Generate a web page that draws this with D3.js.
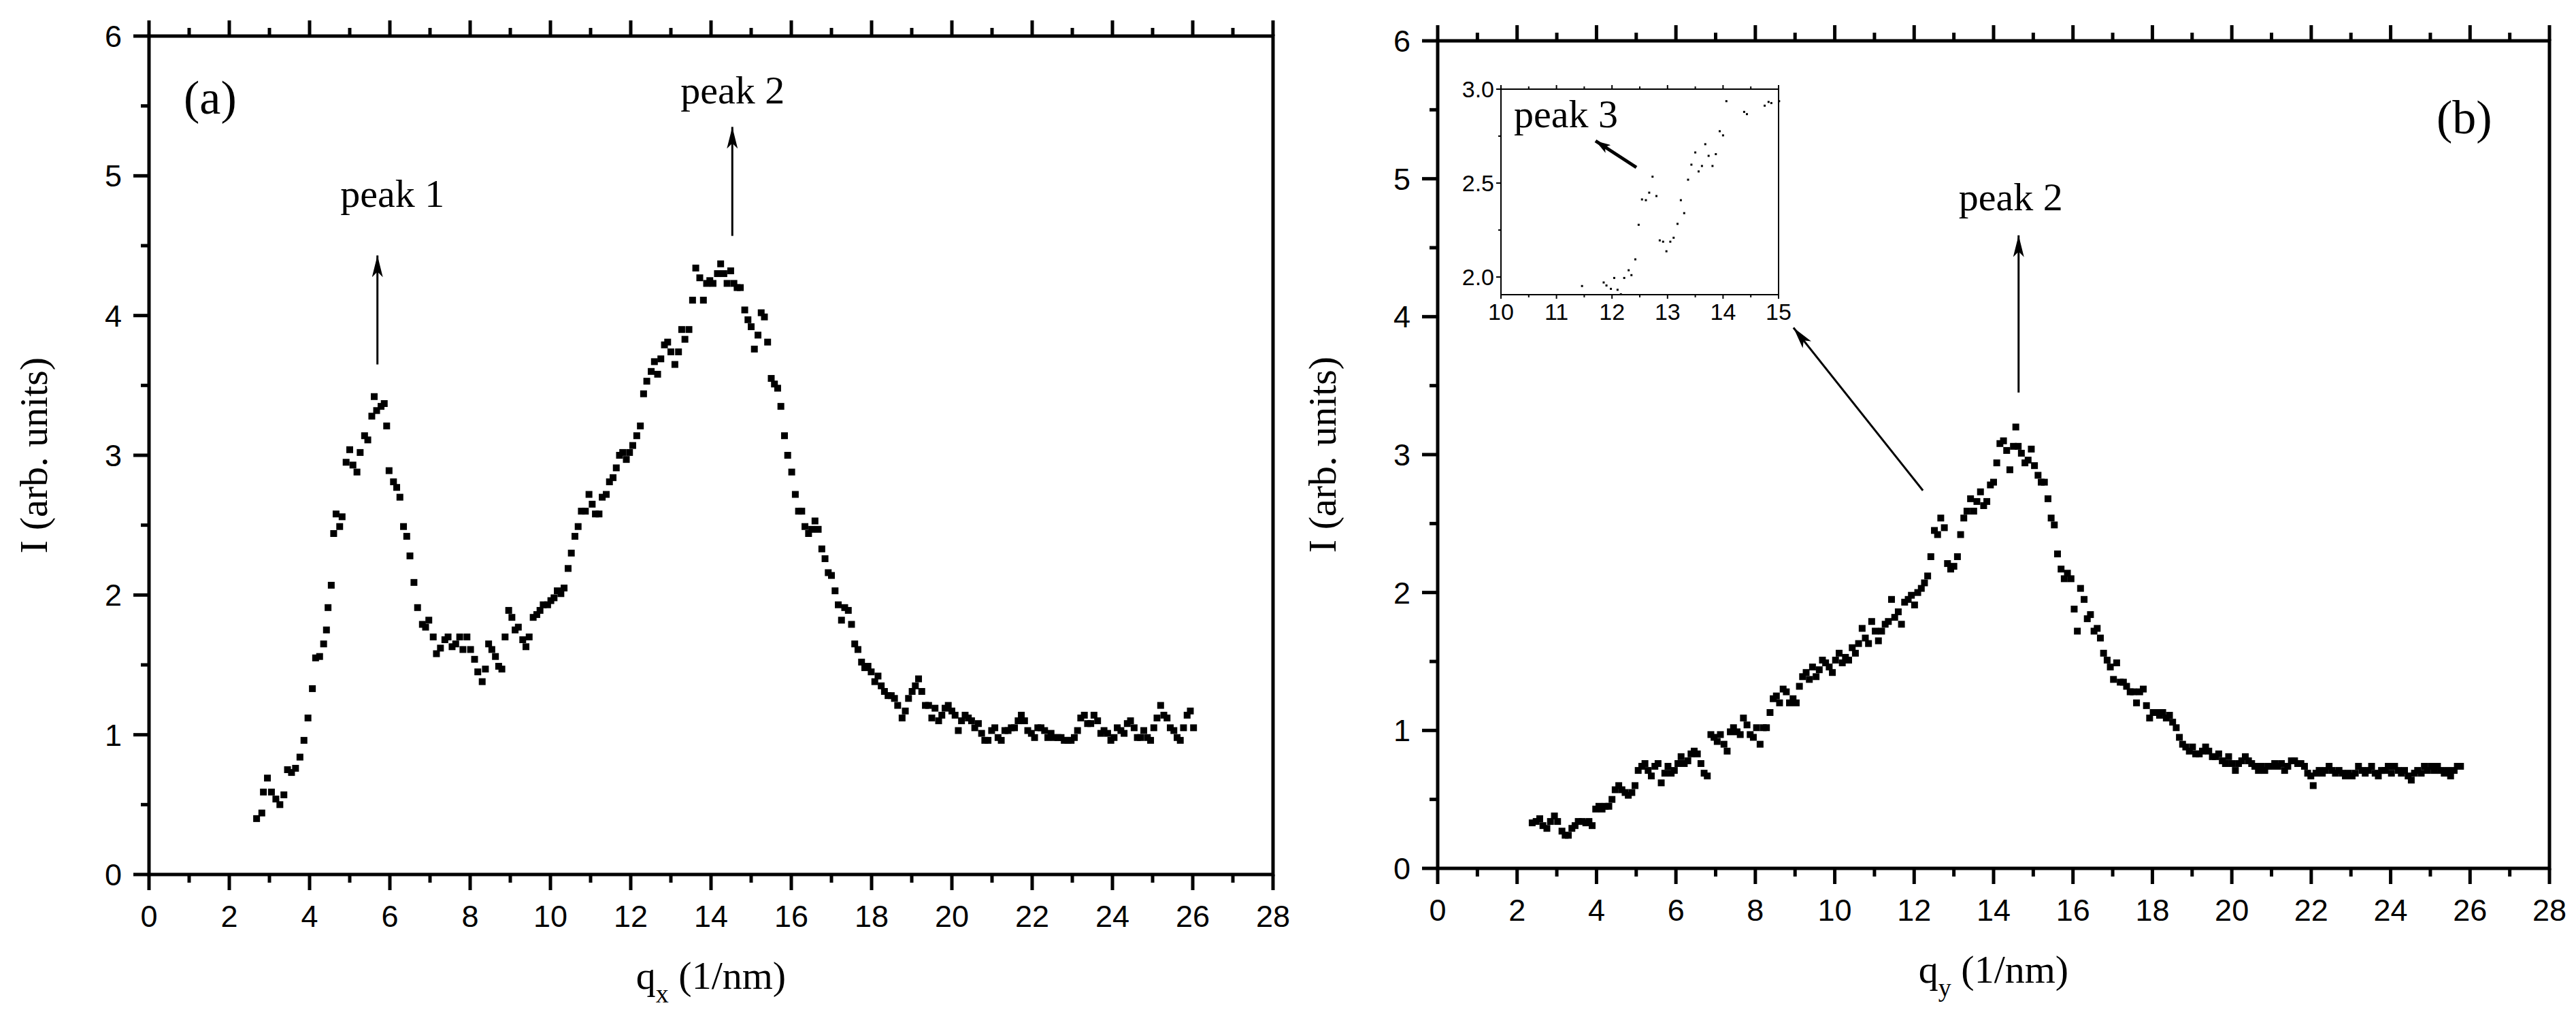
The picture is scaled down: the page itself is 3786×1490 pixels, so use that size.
<!doctype html>
<html>
  <head>
    <meta charset="utf-8" />
    <title>Scattering profiles</title>
    <style>
      body { margin: 0; background: #fff; }
      svg { display: block; }
      .tick-label { font-family: "Liberation Sans", Arial, sans-serif; font-size: 45px; fill: #000; }
      .inset-label { font-family: "Liberation Sans", Arial, sans-serif; font-size: 34px; fill: #000; }
      .serif { font-family: "Liberation Serif", "Times New Roman", serif; fill: #000; }
    </style>
  </head>
  <body>
    <svg id="chart"></svg>
    <script src="https://d3js.org/d3.v7.min.js"></script>
    <script>
      // panel (a): q_x vs intensity
      const seriesA = [
        [2.68,0.40],[2.81,0.44],[2.85,0.59],[2.95,0.69],[3.05,0.59],[3.16,0.54],[3.26,0.50],[3.36,0.57],[3.45,0.75],[3.55,0.73],
        [3.65,0.76],[3.76,0.84],[3.86,0.96],[3.96,1.12],[4.07,1.33],[4.15,1.55],[4.25,1.56],[4.35,1.65],[4.42,1.75],[4.46,1.91],
        [4.54,2.07],[4.60,2.44],[4.66,2.58],[4.75,2.49],[4.81,2.56],[4.91,2.95],[5.00,3.04],[5.08,2.93],[5.18,2.88],[5.26,3.02],
        [5.37,3.14],[5.45,3.11],[5.55,3.28],[5.61,3.42],[5.67,3.32],[5.78,3.35],[5.86,3.37],[5.92,3.21],[5.98,2.89],[6.09,2.81],
        [6.17,2.77],[6.25,2.70],[6.34,2.49],[6.42,2.42],[6.50,2.28],[6.60,2.09],[6.69,1.91],[6.81,1.79],[6.89,1.77],[6.97,1.82],
        [7.08,1.70],[7.16,1.58],[7.26,1.62],[7.37,1.68],[7.45,1.70],[7.55,1.63],[7.64,1.65],[7.74,1.70],[7.82,1.61],[7.92,1.70],
        [8.01,1.61],[8.11,1.54],[8.19,1.45],[8.30,1.38],[8.38,1.47],[8.46,1.65],[8.54,1.61],[8.63,1.56],[8.71,1.49],[8.79,1.47],
        [8.87,1.70],[8.96,1.89],[9.04,1.84],[9.12,1.75],[9.20,1.77],[9.31,1.68],[9.39,1.63],[9.47,1.70],[9.57,1.84],[9.66,1.86],
        [9.74,1.89],[9.82,1.93],[9.93,1.93],[10.01,1.96],[10.09,1.98],[10.17,2.03],[10.26,2.01],[10.34,2.05],[10.44,2.19],[10.52,2.30],
        [10.61,2.42],[10.69,2.49],[10.77,2.60],[10.87,2.60],[10.96,2.72],[11.04,2.65],[11.12,2.58],[11.21,2.58],[11.29,2.70],[11.39,2.72],
        [11.47,2.81],[11.56,2.84],[11.64,2.91],[11.72,3.00],[11.80,3.02],[11.89,2.97],[11.97,3.02],[12.05,3.07],[12.15,3.14],[12.24,3.21],
        [12.32,3.44],[12.40,3.53],[12.51,3.60],[12.59,3.67],[12.67,3.58],[12.75,3.69],[12.84,3.79],[12.92,3.81],[13.00,3.74],[13.10,3.65],
        [13.19,3.74],[13.27,3.90],[13.35,3.83],[13.45,3.90],[13.54,4.11],[13.62,4.34],[13.72,4.27],[13.81,4.11],[13.89,4.23],[13.97,4.25],
        [14.05,4.23],[14.16,4.30],[14.24,4.37],[14.32,4.30],[14.40,4.23],[14.49,4.32],[14.57,4.23],[14.65,4.20],[14.73,4.20],[14.84,4.04],
        [14.92,3.97],[15.00,3.92],[15.08,3.76],[15.17,3.86],[15.25,4.02],[15.33,3.99],[15.41,3.81],[15.50,3.55],[15.58,3.51],[15.66,3.48],
        [15.74,3.35],[15.83,3.14],[15.91,3.00],[16.01,2.88],[16.10,2.72],[16.18,2.60],[16.26,2.60],[16.34,2.49],[16.43,2.44],[16.51,2.47],
        [16.59,2.53],[16.67,2.47],[16.76,2.33],[16.84,2.26],[16.92,2.16],[17.00,2.14],[17.09,2.03],[17.17,1.93],[17.25,1.82],[17.33,1.91],
        [17.42,1.89],[17.50,1.79],[17.58,1.65],[17.66,1.61],[17.75,1.52],[17.83,1.48],[17.91,1.49],[17.99,1.45],[18.08,1.38],[18.16,1.42],
        [18.24,1.35],[18.32,1.31],[18.41,1.28],[18.49,1.28],[18.57,1.26],[18.65,1.21],[18.76,1.12],[18.84,1.17],[18.92,1.26],[19.01,1.31],
        [19.09,1.35],[19.17,1.40],[19.25,1.31],[19.34,1.21],[19.42,1.21],[19.50,1.12],[19.58,1.19],[19.67,1.10],[19.75,1.14],[19.83,1.19],
        [19.91,1.21],[20.00,1.17],[20.08,1.14],[20.16,1.03],[20.24,1.10],[20.33,1.14],[20.41,1.12],[20.49,1.10],[20.57,1.05],[20.66,1.08],
        [20.74,1.01],[20.82,0.96],[20.90,0.96],[20.99,1.03],[21.07,1.05],[21.15,0.98],[21.23,0.96],[21.32,1.03],[21.40,1.03],[21.48,1.05],
        [21.56,1.05],[21.65,1.10],[21.73,1.14],[21.81,1.10],[21.89,1.03],[21.98,1.01],[22.06,0.98],[22.14,1.05],[22.22,1.05],[22.31,1.03],
        [22.39,0.98],[22.47,1.01],[22.55,0.98],[22.64,0.98],[22.72,0.98],[22.80,0.96],[22.89,0.96],[22.97,0.96],[23.05,0.98],[23.13,1.03],
        [23.21,1.12],[23.30,1.14],[23.38,1.08],[23.46,1.08],[23.54,1.14],[23.63,1.10],[23.71,1.01],[23.79,1.03],[23.88,1.01],[23.96,0.96],
        [24.04,0.98],[24.12,1.05],[24.21,1.03],[24.29,1.01],[24.37,1.08],[24.45,1.10],[24.54,1.05],[24.62,0.98],[24.70,0.98],[24.78,1.03],
        [24.87,0.98],[24.95,0.96],[25.03,1.05],[25.11,1.12],[25.20,1.21],[25.28,1.14],[25.36,1.12],[25.44,1.05],[25.53,1.03],[25.61,0.98],
        [25.69,0.96],[25.77,1.05],[25.86,1.14],[25.94,1.17],[26.02,1.05]
      ];

      // panel (b): q_y vs intensity
      const seriesB = [
        [2.38,0.33],[2.48,0.34],[2.57,0.36],[2.65,0.31],[2.75,0.29],[2.84,0.34],[2.94,0.38],[3.02,0.34],[3.13,0.27],[3.21,0.24],
        [3.29,0.24],[3.38,0.29],[3.46,0.31],[3.54,0.34],[3.64,0.34],[3.73,0.33],[3.81,0.34],[3.89,0.31],[3.98,0.43],[4.06,0.45],
        [4.14,0.43],[4.22,0.45],[4.31,0.45],[4.39,0.50],[4.47,0.57],[4.56,0.60],[4.64,0.57],[4.72,0.55],[4.80,0.53],[4.89,0.55],
        [4.97,0.60],[5.05,0.71],[5.14,0.74],[5.22,0.76],[5.30,0.71],[5.38,0.67],[5.47,0.74],[5.55,0.76],[5.63,0.62],[5.72,0.69],
        [5.80,0.74],[5.88,0.69],[5.96,0.71],[6.05,0.76],[6.13,0.81],[6.21,0.76],[6.30,0.78],[6.38,0.83],[6.46,0.85],[6.54,0.83],
        [6.63,0.76],[6.71,0.69],[6.79,0.67],[6.88,0.97],[6.96,0.95],[7.04,0.92],[7.12,0.97],[7.21,0.90],[7.29,0.85],[7.37,0.99],
        [7.45,1.02],[7.54,0.99],[7.62,0.97],[7.70,1.09],[7.79,1.04],[7.87,0.97],[7.95,0.95],[8.03,1.02],[8.12,0.90],[8.20,1.02],
        [8.28,1.02],[8.37,1.13],[8.45,1.23],[8.53,1.25],[8.61,1.20],[8.70,1.30],[8.78,1.28],[8.86,1.20],[8.95,1.23],[9.03,1.20],
        [9.11,1.32],[9.19,1.39],[9.28,1.42],[9.36,1.37],[9.44,1.46],[9.53,1.39],[9.61,1.44],[9.69,1.51],[9.77,1.49],[9.86,1.46],
        [9.94,1.42],[10.02,1.51],[10.11,1.56],[10.19,1.49],[10.27,1.53],[10.35,1.51],[10.44,1.60],[10.52,1.56],[10.60,1.63],[10.69,1.74],
        [10.77,1.67],[10.85,1.63],[10.93,1.79],[11.02,1.72],[11.10,1.65],[11.18,1.72],[11.27,1.77],[11.35,1.79],[11.43,1.95],[11.51,1.82],
        [11.60,1.86],[11.68,1.77],[11.76,1.93],[11.85,1.95],[11.93,1.98],[12.01,1.91],[12.09,2.00],[12.18,2.03],[12.26,2.07],[12.34,2.12],
        [12.42,2.26],[12.51,2.45],[12.59,2.42],[12.67,2.54],[12.76,2.47],[12.84,2.21],[12.92,2.17],[13.00,2.19],[13.09,2.26],[13.17,2.42],
        [13.25,2.54],[13.33,2.59],[13.42,2.68],[13.50,2.59],[13.58,2.66],[13.67,2.73],[13.75,2.63],[13.83,2.66],[13.92,2.78],[14.00,2.80],
        [14.08,2.94],[14.16,3.08],[14.25,3.10],[14.33,3.03],[14.41,2.89],[14.50,3.06],[14.56,3.20],[14.62,3.06],[14.70,3.01],[14.79,2.94],
        [14.87,2.96],[14.95,3.04],[15.03,2.92],[15.12,2.85],[15.20,2.80],[15.28,2.80],[15.37,2.68],[15.45,2.54],[15.53,2.49],[15.61,2.28],
        [15.70,2.17],[15.78,2.10],[15.86,2.14],[15.95,2.10],[16.03,1.88],[16.11,1.72],[16.19,2.03],[16.28,1.95],[16.36,1.81],[16.44,1.84],
        [16.53,1.72],[16.61,1.74],[16.69,1.67],[16.77,1.56],[16.86,1.51],[16.94,1.46],[17.02,1.37],[17.10,1.49],[17.19,1.35],[17.27,1.35],
        [17.35,1.32],[17.44,1.28],[17.52,1.28],[17.60,1.20],[17.68,1.28],[17.77,1.30],[17.85,1.18],[17.93,1.09],[18.02,1.13],[18.10,1.13],
        [18.18,1.11],[18.26,1.13],[18.35,1.09],[18.43,1.11],[18.51,1.06],[18.60,1.02],[18.68,0.95],[18.76,0.90],[18.84,0.88],[18.93,0.85],
        [19.01,0.88],[19.09,0.83],[19.18,0.83],[19.26,0.85],[19.34,0.88],[19.42,0.85],[19.51,0.81],[19.59,0.81],[19.67,0.83],[19.76,0.78],
        [19.84,0.76],[19.92,0.81],[20.00,0.76],[20.09,0.71],[20.17,0.76],[20.25,0.78],[20.34,0.81],[20.42,0.78],[20.50,0.76],[20.58,0.74],
        [20.67,0.71],[20.75,0.74],[20.83,0.71],[20.92,0.74],[21.00,0.74],[21.08,0.76],[21.16,0.74],[21.25,0.76],[21.33,0.71],[21.41,0.74],
        [21.50,0.78],[21.58,0.78],[21.66,0.76],[21.74,0.76],[21.83,0.74],[21.91,0.69],[21.99,0.67],[22.05,0.60],[22.12,0.69],[22.20,0.71],
        [22.28,0.69],[22.36,0.71],[22.45,0.74],[22.53,0.71],[22.61,0.69],[22.70,0.71],[22.78,0.69],[22.86,0.67],[22.94,0.69],[23.03,0.67],
        [23.11,0.69],[23.19,0.74],[23.28,0.71],[23.36,0.69],[23.44,0.71],[23.52,0.74],[23.61,0.69],[23.69,0.67],[23.77,0.71],[23.86,0.71],
        [23.94,0.74],[24.02,0.69],[24.10,0.74],[24.19,0.71],[24.27,0.69],[24.35,0.71],[24.44,0.67],[24.52,0.64],[24.60,0.69],[24.68,0.71],
        [24.77,0.69],[24.85,0.74],[24.93,0.71],[25.02,0.74],[25.10,0.71],[25.18,0.74],[25.26,0.71],[25.35,0.69],[25.43,0.71],[25.51,0.67],
        [25.60,0.71],[25.68,0.74],[25.76,0.74]
      ];

      // inset of panel (b), q_y 10..15
      const seriesInset = [
        [11.46,1.952],[11.85,1.971],[11.90,1.955],[11.98,1.937],[12.04,1.995],[12.10,1.932],[12.16,1.908],[12.22,1.995],
        [12.30,2.036],[12.35,2.010],[12.42,2.094],[12.48,2.278],[12.54,2.413],[12.61,2.409],[12.67,2.449],[12.73,2.534],
        [12.80,2.431],[12.86,2.195],[12.92,2.188],[12.98,2.137],[13.05,2.188],[13.11,2.209],[13.18,2.283],[13.24,2.409],
        [13.30,2.340],[13.37,2.518],[13.43,2.598],[13.50,2.663],[13.56,2.562],[13.62,2.591],[13.68,2.707],[13.74,2.645],
        [13.81,2.591],[13.87,2.654],[13.94,2.776],[14.00,2.754],[14.06,2.936],[14.38,2.879],[14.43,2.867],[14.75,2.912],
        [14.82,2.932],[14.87,2.926],[15.01,2.936]
      ];

      const xMajor = d3.range(0, 29, 2);
      const xMinor = d3.range(1, 28, 2);
      const yMajor = [0, 1, 2, 3, 4, 5, 6];
      const yMinor = [0.5, 1.5, 2.5, 3.5, 4.5, 5.5];
      const insetXMajor = [10, 11, 12, 13, 14, 15];
      const insetXMinor = [10.5, 11.5, 12.5, 13.5, 14.5];
      const insetYMajor = [2.0, 2.5, 3.0];
      const insetYMinor = [2.25, 2.75];

      const W = 3786, H = 1490;
      const svg = d3.select("#chart").attr("width", W).attr("height", H);

      const defs = svg.append("defs");
      function arrowMarker(id, len, wid) {
        defs.append("marker")
          .attr("id", id)
          .attr("markerUnits", "userSpaceOnUse")
          .attr("viewBox", `0 0 ${len} ${wid}`)
          .attr("refX", len).attr("refY", wid / 2)
          .attr("markerWidth", len).attr("markerHeight", wid)
          .attr("orient", "auto")
          .append("path")
          .attr("d", `M0,0 L${len},${wid / 2} L0,${wid} L${len * 0.25},${wid / 2} Z`)
          .attr("fill", "#000");
      }
      arrowMarker("head", 32, 16);
      arrowMarker("headSmall", 22, 14);

      function drawPanel(opt) {
        const x = d3.scaleLinear().domain([0, 28]).range([opt.left, opt.right]);
        const y = d3.scaleLinear().domain([0, 6]).range([opt.bottom, opt.top]);
        const g = svg.append("g");
        const tk = g.append("g").attr("stroke", "#000").attr("stroke-width", 5);

        // bottom and top ticks (outward)
        xMajor.forEach(v => {
          tk.append("line").attr("x1", x(v)).attr("x2", x(v)).attr("y1", opt.bottom).attr("y2", opt.bottom + 23);
          tk.append("line").attr("x1", x(v)).attr("x2", x(v)).attr("y1", opt.top).attr("y2", opt.top - 23);
        });
        xMinor.forEach(v => {
          tk.append("line").attr("x1", x(v)).attr("x2", x(v)).attr("y1", opt.bottom).attr("y2", opt.bottom + 12);
          tk.append("line").attr("x1", x(v)).attr("x2", x(v)).attr("y1", opt.top).attr("y2", opt.top - 12);
        });
        yMajor.forEach(v => {
          tk.append("line").attr("x1", opt.left).attr("x2", opt.left - 23).attr("y1", y(v)).attr("y2", y(v));
        });
        yMinor.forEach(v => {
          tk.append("line").attr("x1", opt.left).attr("x2", opt.left - 12).attr("y1", y(v)).attr("y2", y(v));
        });

        g.append("rect")
          .attr("x", opt.left).attr("y", opt.top)
          .attr("width", opt.right - opt.left).attr("height", opt.bottom - opt.top)
          .attr("fill", "none").attr("stroke", "#000").attr("stroke-width", 5);

        g.append("g").selectAll("text").data(xMajor).join("text")
          .attr("class", "tick-label")
          .attr("x", d => x(d)).attr("y", opt.bottom + 77)
          .attr("text-anchor", "middle")
          .text(d => d);

        g.append("g").selectAll("text").data(yMajor).join("text")
          .attr("class", "tick-label")
          .attr("x", opt.left - 40).attr("y", d => y(d) + 16)
          .attr("text-anchor", "end")
          .text(d => d);

        // data squares
        g.append("g").selectAll("rect").data(opt.data).join("rect")
          .attr("x", d => x(d[0]) - 5).attr("y", d => y(d[1]) - 5)
          .attr("width", 10).attr("height", 10)
          .attr("fill", "#000");

        // axis titles
        const xt = g.append("text").attr("class", "serif")
          .attr("x", (opt.left + opt.right) / 2).attr("y", opt.bottom + 168)
          .attr("text-anchor", "middle").attr("font-size", 58);
        xt.append("tspan").text("q");
        xt.append("tspan").attr("font-size", 38).attr("dy", 20).text(opt.sub);
        xt.append("tspan").attr("dy", -20).text(" (1/nm)");

        g.append("text").attr("class", "serif")
          .attr("transform", `translate(${opt.left - 150},${(opt.top + opt.bottom) / 2}) rotate(-90)`)
          .attr("text-anchor", "middle").attr("font-size", 58)
          .text("I (arb. units)");

        return { x, y, g };
      }

      function arrow(g, x1, y1, x2, y2, marker, width) {
        g.append("line")
          .attr("x1", x1).attr("y1", y1).attr("x2", x2).attr("y2", y2)
          .attr("stroke", "#000").attr("stroke-width", width)
          .attr("marker-end", `url(#${marker})`);
      }

      // ---- panel (a)
      const pa = drawPanel({ left: 219, right: 1871, top: 53, bottom: 1285, data: seriesA, sub: "x" });
      pa.g.append("text").attr("class", "serif").attr("font-size", 70)
        .attr("x", 270).attr("y", 167).text("(a)");
      pa.g.append("text").attr("class", "serif").attr("font-size", 58)
        .attr("x", pa.x(5.7) - 55).attr("y", 304).text("peak 1");
      arrow(pa.g, pa.x(5.69), pa.y(3.65), pa.x(5.69), pa.y(4.43), "head", 3);
      pa.g.append("text").attr("class", "serif").attr("font-size", 58)
        .attr("x", pa.x(14.53) - 76).attr("y", 152).text("peak 2");
      arrow(pa.g, pa.x(14.53), pa.y(4.57), pa.x(14.53), pa.y(5.35), "head", 3);

      // ---- panel (b)
      const pb = drawPanel({ left: 2113, right: 3747, top: 60, bottom: 1276, data: seriesB, sub: "y" });
      pb.g.append("text").attr("class", "serif").attr("font-size", 70)
        .attr("x", 3581).attr("y", 196).text("(b)");
      pb.g.append("text").attr("class", "serif").attr("font-size", 58)
        .attr("x", pb.x(14.63) - 88).attr("y", 309).text("peak 2");
      arrow(pb.g, pb.x(14.63), pb.y(3.45), pb.x(14.63), pb.y(4.59), "head", 3);
      arrow(pb.g, pb.x(12.22), pb.y(2.74), pb.x(8.96), pb.y(3.92), "head", 3);

      // ---- inset
      const ix = d3.scaleLinear().domain([10, 15]).range([2206, 2614]);
      const iy = d3.scaleLinear().domain([1.906, 3.0]).range([433, 131]);
      const ig = svg.append("g");
      const itk = ig.append("g").attr("stroke", "#000").attr("stroke-width", 2);
      insetXMajor.concat(insetXMinor).forEach(v => {
        const len = insetXMajor.includes(v) ? 6 : 4;
        itk.append("line").attr("x1", ix(v)).attr("x2", ix(v)).attr("y1", 433).attr("y2", 433 + len);
        itk.append("line").attr("x1", ix(v)).attr("x2", ix(v)).attr("y1", 131).attr("y2", 131 - len);
      });
      insetYMajor.concat(insetYMinor).forEach(v => {
        const len = insetYMajor.includes(v) ? 7 : 4;
        itk.append("line").attr("x1", 2206).attr("x2", 2206 - len).attr("y1", iy(v)).attr("y2", iy(v));
      });
      ig.append("rect").attr("x", 2206).attr("y", 131).attr("width", 2614 - 2206).attr("height", 433 - 131)
        .attr("fill", "none").attr("stroke", "#000").attr("stroke-width", 2);
      ig.append("g").selectAll("text").data(insetXMajor).join("text")
        .attr("class", "inset-label").attr("x", d => ix(d)).attr("y", 470)
        .attr("text-anchor", "middle").text(d => d);
      ig.append("g").selectAll("text").data(insetYMajor).join("text")
        .attr("class", "inset-label").attr("x", 2196).attr("y", d => iy(d) + 12)
        .attr("text-anchor", "end").text(d => d.toFixed(1));
      ig.append("g").selectAll("rect").data(seriesInset).join("rect")
        .attr("x", d => ix(d[0]) - 1.5).attr("y", d => iy(d[1]) - 1.5)
        .attr("width", 3).attr("height", 3).attr("fill", "#000");
      ig.append("text").attr("class", "serif").attr("font-size", 58)
        .attr("x", 2225).attr("y", 187).text("peak 3");
      arrow(ig, 2405, 246, 2345, 207, "headSmall", 5);
    </script>
  </body>
</html>
